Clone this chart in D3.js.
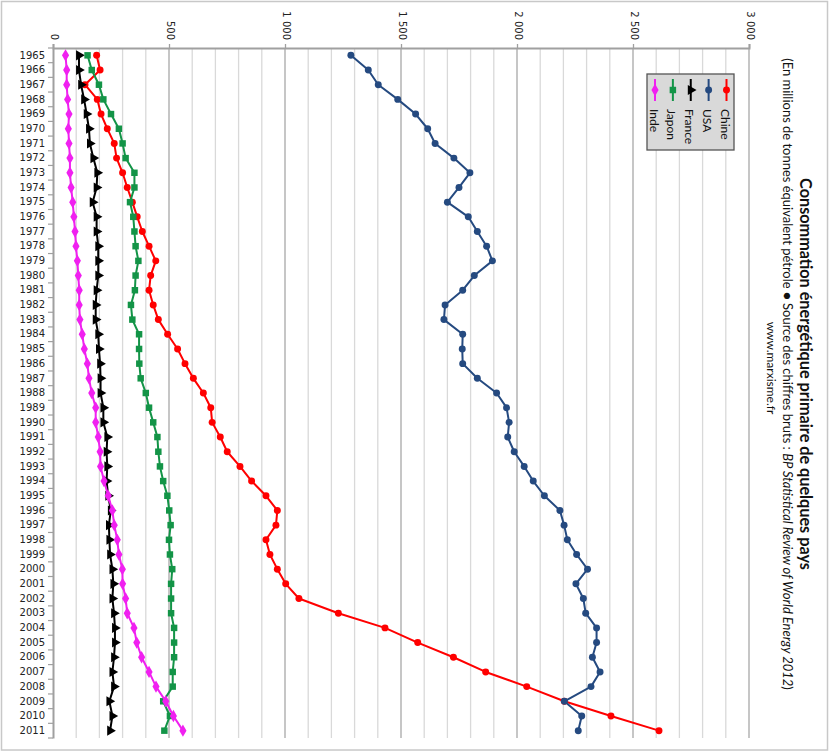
<!DOCTYPE html>
<html>
<head>
<meta charset="utf-8">
<script src="https://cdn.jsdelivr.net/npm/d3@7"></script>
<style>
html,body{margin:0;padding:0;background:#fff;}
svg{display:block;}
</style>
</head>
<body>
<svg id="chart" width="830" height="752"></svg>
<script>
// ---------- DATA ----------
const years = d3.range(1965, 2012);
const valueTicks = [0, 500, 1000, 1500, 2000, 2500, 3000];
const seriesNames = ["Chine", "USA", "France", "Japon", "Inde"];

const chine = [188,203,138,191,207,234,264,274,300,320,342,363,385,414,443,421,
  414,432,454,494,537,569,605,648,680,686,721,751,806,856,918,967,961,918,935,967,
  1003,1060,1230,1431,1572,1726,1865,2042,2204,2405,2612];
const usa = [1284,1359,1402,1486,1563,1615,1647,1728,1797,1750,1700,1790,1829,1869,1894,1816,
  1766,1690,1685,1766,1764,1766,1829,1912,1955,1966,1960,1988,2031,2070,2118,2185,2203,2217,2257,2304,
  2254,2286,2296,2343,2343,2325,2358,2319,2204,2279,2264];
const france = [112,112,121,134,145,155,159,174,191,188,171,188,188,195,195,195,
  188,184,184,195,198,203,205,205,217,217,234,231,234,231,238,249,241,243,246,256,
  260,256,263,267,267,263,256,263,243,256,246];
const japon = [149,167,198,217,250,284,300,313,351,351,332,346,351,356,368,356,
  353,336,342,371,371,372,378,400,414,432,450,454,461,475,493,501,507,500,504,514,
  509,509,509,522,522,522,516,516,475,504,480];
const inde = [54,59,59,63,69,66,69,73,73,78,85,90,95,99,105,109,
  113,113,116,126,135,148,155,167,184,184,195,203,205,220,238,256,264,277,284,299,
  300,313,320,349,361,382,414,444,486,519,560];

const titleText = "Consommation énergétique primaire de quelques pays";
const subtitleParts = [
  {t: "(En millions de tonnes équivalent pétrole ● Source des chiffres bruts : ", i: false},
  {t: "BP Statistical Review of World Energy 2012", i: true},
  {t: ")", i: false}
];
const siteText = "www.marxisme.fr";

// ---------- STYLE ----------
const colors = {Chine: "#ff0000", USA: "#254a80", France: "#000000", Japon: "#139447", Inde: "#f020f0"};
const seriesData = {Chine: chine, USA: usa, France: france, Japon: japon, Inde: inde};
const markers = {Chine: d3.symbolCircle, USA: d3.symbolCircle, France: d3.symbolTriangle, Japon: d3.symbolSquare, Inde: d3.symbolDiamond};
const markerSize = {Chine: 38, USA: 38, France: 44, Japon: 42, Inde: 44};
const markerRot = {Chine: 0, USA: 0, France: 90, Japon: 0, Inde: 0};

const svg = d3.select("#chart");
const W = 830, H = 752;
const plot = {left: 53, right: 749, top: 48, bottom: 738};

// outer frame
svg.append("rect").attr("x", 1.5).attr("y", 1.5).attr("width", W - 4).attr("height", H - 3.5)
  .attr("fill", "#fff").attr("stroke", "#c8c8c8").attr("stroke-width", 1.5);

const x = d3.scaleLinear().domain([0, 3000]).range([plot.left, plot.right]);
const y = d3.scaleBand().domain(years).range([plot.top, plot.bottom]).padding(0);
const yc = yr => y(yr) + y.bandwidth() / 2;

// gridlines
const minor = d3.range(100, 3001, 100);
svg.append("g").selectAll("line").data(minor).join("line")
  .attr("x1", d => x(d)).attr("x2", d => x(d))
  .attr("y1", plot.top).attr("y2", plot.bottom)
  .attr("stroke", d => d % 500 === 0 ? "#a8a8a8" : "#d9d9d9")
  .attr("stroke-width", 1.3);

// value axis (top)
const xAxis = d3.axisTop(x).tickValues(valueTicks).tickSize(4).tickPadding(8)
  .tickFormat(d => d3.format(",")(d).replace(/,/g, "\u00a0"));
const gx = svg.append("g").attr("transform", `translate(0,${plot.top})`).call(xAxis);
gx.select(".domain").attr("stroke", "#a0a0a0").attr("stroke-width", 2);
gx.selectAll(".tick line").attr("stroke", "#a0a0a0").attr("stroke-width", 1.3);
gx.selectAll(".tick text")
  .attr("font-family", "DejaVu Sans, Verdana, sans-serif").attr("font-size", 10).attr("fill", "#222")
  .attr("text-anchor", "end").attr("dominant-baseline", "central")
  .attr("x", 0).attr("y", 0).attr("dy", null)
  .attr("transform", "translate(1,-8) rotate(90)");

// category axis (left)
const yAxis = d3.axisLeft(y).tickSize(0).tickPadding(8);
const gy = svg.append("g").attr("transform", `translate(${plot.left},0)`).call(yAxis);
gy.select(".domain").attr("stroke", "#a0a0a0").attr("stroke-width", 2);
gy.selectAll(".tick text")
  .attr("font-family", "DejaVu Sans, Verdana, sans-serif").attr("font-size", 10).attr("fill", "#222");
// tick marks between categories
const bounds = years.map(yr => y(yr)).concat([plot.bottom]);
svg.append("g").selectAll("line").data(bounds).join("line")
  .attr("x1", plot.left - 5).attr("x2", plot.left)
  .attr("y1", d => d).attr("y2", d => d)
  .attr("stroke", "#a0a0a0").attr("stroke-width", 1.2);

// series
const line = d3.line().x(d => x(d.v)).y(d => yc(d.yr));
seriesNames.forEach(name => {
  const pts = years.map((yr, i) => ({yr, v: seriesData[name][i]}));
  const g = svg.append("g");
  g.append("path").datum(pts).attr("d", line)
    .attr("fill", "none").attr("stroke", colors[name]).attr("stroke-width", 2).attr("stroke-linejoin", "round");
  const sym = d3.symbol().type(markers[name]).size(markerSize[name]);
  g.selectAll("path.m").data(pts).join("path").attr("class", "m")
    .attr("d", sym)
    .attr("transform", d => `translate(${x(d.v)},${yc(d.yr)}) rotate(${markerRot[name]})`)
    .attr("fill", colors[name]);
});

// legend
const lg = svg.append("g");
lg.append("rect").attr("x", 647).attr("y", 74).attr("width", 87).attr("height", 76)
  .attr("fill", "#d9d9d9").attr("stroke", "#555").attr("stroke-width", 1.3);
const legX = d3.scalePoint().domain(seriesNames).range([726.5, 655]);
seriesNames.forEach(name => {
  const cx = legX(name);
  lg.append("line").attr("x1", cx).attr("x2", cx).attr("y1", 79).attr("y2", 101)
    .attr("stroke", colors[name]).attr("stroke-width", 2);
  lg.append("path").attr("d", d3.symbol().type(markers[name]).size(markerSize[name])())
    .attr("transform", `translate(${cx},90) rotate(${markerRot[name]})`)
    .attr("fill", colors[name]);
  lg.append("text").text(name)
    .attr("transform", `translate(${cx - 1},109) rotate(90)`)
    .attr("font-family", "Lato, 'Open Sans', sans-serif").attr("font-size", 12).attr("fill", "#111")
    .attr("dominant-baseline", "central");
});

// titles (rotated)
function fit(sel, target) {
  const len = sel.node().getComputedTextLength();
  const fs = parseFloat(sel.attr("font-size"));
  sel.attr("font-size", fs * target / len);
}
const cy = 374;
const t1 = svg.append("text").text(titleText)
  .attr("transform", `translate(806,${cy}) rotate(90)`)
  .attr("text-anchor", "middle").attr("dominant-baseline", "central")
  .attr("font-family", "Lato, 'Open Sans', sans-serif").attr("font-weight", "bold")
  .attr("font-size", 14).attr("fill", "#111");
fit(t1, 392);
const t2 = svg.append("text")
  .attr("transform", `translate(788,${cy}) rotate(90)`)
  .attr("text-anchor", "middle").attr("dominant-baseline", "central")
  .attr("font-family", "Lato, 'Open Sans', sans-serif").attr("font-size", 11).attr("fill", "#111");
subtitleParts.forEach(p => t2.append("tspan").text(p.t).attr("font-style", p.i ? "italic" : "normal"));
fit(t2, 632);
const t3 = svg.append("text").text(siteText)
  .attr("transform", `translate(771,${cy - 6}) rotate(90)`)
  .attr("text-anchor", "middle").attr("dominant-baseline", "central")
  .attr("font-family", "Lato, 'Open Sans', sans-serif").attr("font-size", 12).attr("fill", "#111");
</script>
</body>
</html>
